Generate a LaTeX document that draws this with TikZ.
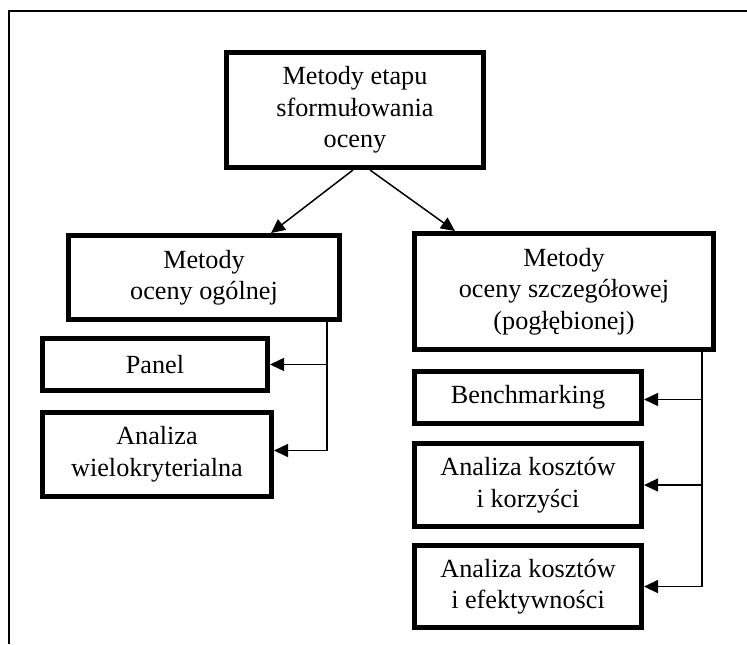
\documentclass[tikz,border=0pt]{standalone}
\usepackage{fontspec}
\setmainfont{Liberation Serif}
\usepackage{tikz}
\usetikzlibrary{arrows.meta}

\begin{document}
\begin{tikzpicture}[
	box/.style={draw, line width=2.4pt, align=center, inner sep=0pt,
		font=\fontsize{13.1}{15.8}\selectfont},
	link/.style={-{Triangle[length=7pt, width=6.5pt]}, line width=0.75pt}]
	\useasboundingbox (0, 0) rectangle (13.127, -11.317);
	\draw [line width=0.85pt] (13.127, -0.193) -| (0.158, -11.317);

	\node [box, minimum width=128.6pt, minimum height=57.6pt]	(MetodyEtapu)		at (6.238, -1.933)	{Metody etapu\\sformułowania\\oceny};
	\node [box, minimum width=135.6pt, minimum height=42.1pt]	(OcenaOgolna)		at (3.585, -4.877)	{Metody\\oceny ogólnej};
	\node [box, minimum width=149.6pt, minimum height=58.1pt]	(OcenaSzczegolowa)	at (9.911, -5.123)	{Metody\\oceny szczegółowej\\(pogłębionej)};
	\node [box, minimum width=112.6pt, minimum height=26.1pt]	(Panel)				at (2.724, -6.405)	{Panel};
	\node [box, minimum width=114.6pt, minimum height=42.1pt]	(Wielokryterialna)	at (2.759, -7.987)	{Analiza\\wielokryterialna};
	\node [box, minimum width=113.6pt, minimum height=26.1pt]	(Benchmarking)		at (9.279, -6.985)	{Benchmarking};
	\node [box, minimum width=113.6pt, minimum height=41.6pt]	(KosztyKorzysci)	at (9.279, -8.523)	{Analiza kosztów\\i korzyści};
	\node [box, minimum width=113.6pt, minimum height=41.1pt]	(KosztyEfektywnosc)	at (9.279, -10.307)	{Analiza kosztów\\i efektywności};

	% from the top box down to both groups
	\draw [link] ([xshift=-1pt]MetodyEtapu.south) -- ([xshift=33.5pt]OcenaOgolna.north);
	\draw [link] ([xshift=7.5pt]MetodyEtapu.south) -- ([xshift=-54.5pt]OcenaSzczegolowa.north);

	% side buses
	\coordinate (BusOgolna) at ([xshift=-7.5pt]OcenaOgolna.south east);
	\coordinate (BusSzczegolowa) at ([xshift=-7pt]OcenaSzczegolowa.south east);
	\draw [link] (BusOgolna) |- (Panel.east);
	\draw [link] (BusOgolna) |- ([yshift=2pt]Wielokryterialna.east);
	\draw [link] (BusSzczegolowa) |- ([yshift=-1pt]Benchmarking.east);
	\draw [link] (BusSzczegolowa) |- (KosztyKorzysci.east);
	\draw [link] (BusSzczegolowa) |- (KosztyEfektywnosc.east);
\end{tikzpicture}
\end{document}
